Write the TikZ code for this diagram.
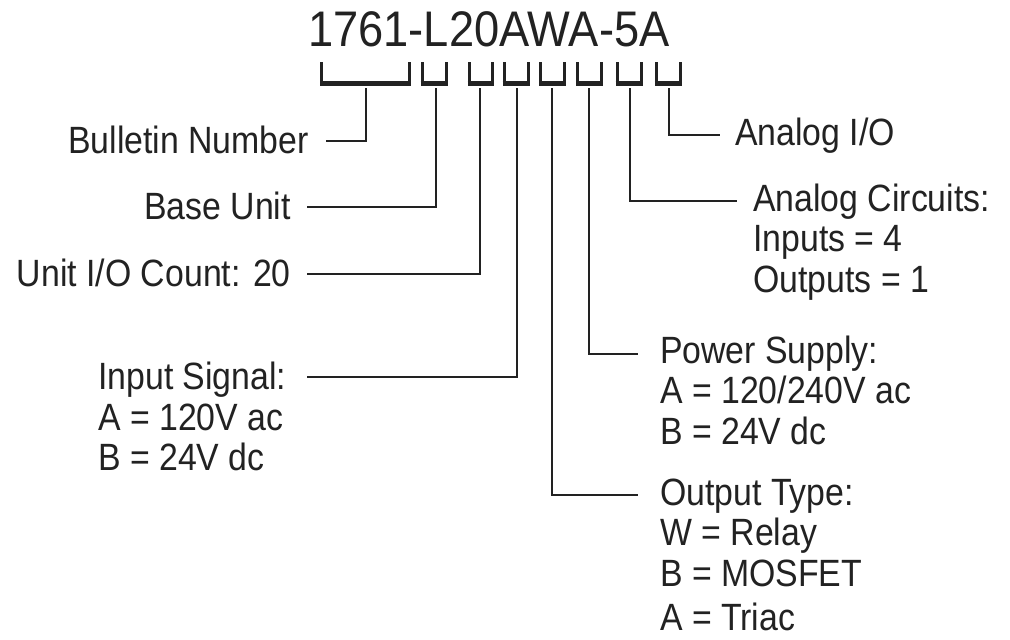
\documentclass[tikz,border=0pt]{standalone}
\usepackage{fontspec}
\setmainfont{Liberation Sans}[FakeStretch=0.89]
\newfontfamily\titlefont{Liberation Sans}[FakeStretch=0.905]
\definecolor{ink}{HTML}{222222}
\begin{document}
\begin{tikzpicture}[x=1pt,y=-1pt,
  every node/.style={inner sep=0pt,text=ink},
  lbl/.style={font=\fontsize{38}{40.5}\selectfont},
  multi/.style={lbl,align=left,anchor=north west},
  brkside/.style={draw=ink,line width=3pt},
  brkbase/.style={draw=ink,line width=5pt},
  leader/.style={draw=ink,line width=1.6pt}]
\useasboundingbox[fill=white] (0,0) rectangle (1010,640);

% title
\node[anchor=base west,font=\titlefont\fontsize{50}{50}\selectfont] (title) at (308,46) {1761-L20AWA-5A};

% brackets
\foreach \l/\r in {321.7/409,422/446,469/492,504/528,540.5/564.5,577.7/601.7,617/641,656.3/680}{
  \draw[brkside] (\l,62) -- (\l,84) -- (\r,84) -- (\r,62);
  \draw[brkbase] (\l-1.5,83.5) -- (\r+1.5,83.5);
}

% bracket anchors for leaders
\foreach \x [count=\i] in {366,436,480,517,552,589,630,669}{
  \coordinate (b\i) at (\x,88);
}

% leader ends
\coordinate (e1) at (326,141);
\coordinate (e2) at (307,207);
\coordinate (e3) at (307,274);
\coordinate (e4) at (307,377);
\coordinate (e5) at (638,495);
\coordinate (e6) at (638,354);
\coordinate (e7) at (737,201);
\coordinate (e8) at (720,135);

% labels
\node[lbl,anchor=base east] (bulletin) at (309,153) {Bulletin Number};
\node[lbl,anchor=base east] (base) at (291,219) {Base Unit};
\node[lbl,anchor=base east] (count) at (291,286) {Unit I/O Count: 20};
\node[multi] (input) at (98,362) {Input Signal:\\A = 120V ac\\B = 24V dc};
\node[multi] (output) at (660,478.5) {Output Type:\\W = Relay\\B = MOSFET\\[4pt]A = Triac};
\node[multi] (power) at (660,335.5) {Power Supply:\\A = 120/240V ac\\B = 24V dc};
\node[multi] (circuits) at (753,183.5) {Analog Circuits:\\Inputs = 4\\Outputs = 1};
\node[lbl,anchor=base west] (analog) at (735,145) {Analog I/O};

% leaders
\draw[leader] (b1) |- (e1);
\draw[leader] (b2) |- (e2);
\draw[leader] (b3) |- (e3);
\draw[leader] (b4) |- (e4);
\draw[leader] (b5) |- (e5);
\draw[leader] (b6) |- (e6);
\draw[leader] (b7) |- (e7);
\draw[leader] (b8) |- (e8);
\end{tikzpicture}
\end{document}
